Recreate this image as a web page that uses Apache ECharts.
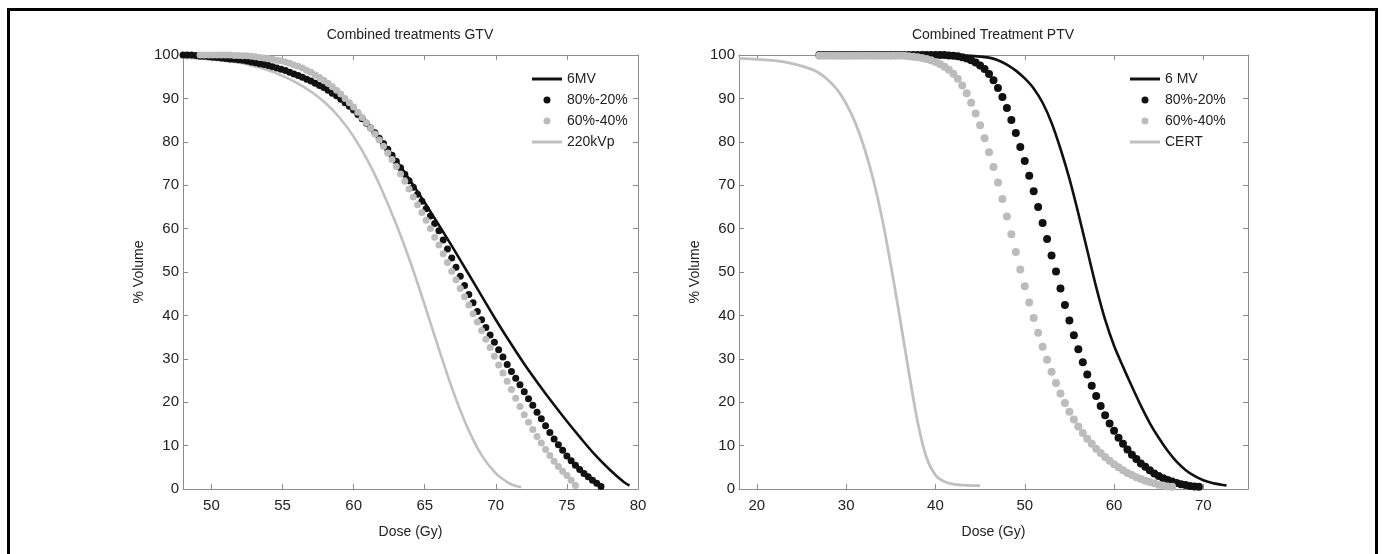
<!DOCTYPE html>
<html><head><meta charset="utf-8">
<script src="https://cdn.jsdelivr.net/npm/echarts@6/dist/echarts.min.js"></script>
<style>
html,body{margin:0;padding:0;background:#fff;overflow:hidden}
#chart{width:1382px;height:554px;position:absolute;left:0;top:0}
#frame{position:absolute;left:7px;top:8px;width:1365px;height:600px;border:3px solid #000;pointer-events:none}
</style></head><body>
<div id="chart"></div><div id="frame"></div>
<script>
// ---------- data ----------
const gtvTitle = 'Combined treatments GTV';
const ptvTitle = 'Combined Treatment PTV';
const xName = 'Dose (Gy)';
const yName = '% Volume';
const gtvXTicks = [50, 55, 60, 65, 70, 75, 80];
const ptvXTicks = [20, 30, 40, 50, 60, 70];
const gtvNames = ['6MV', '80%-20%', '60%-40%', '220kVp'];
const ptvNames = ['6 MV', '80%-20%', '60%-40%', 'CERT'];

// GTV (left panel)
const gtv6MV = [[48,100],[48.7,99.7],[49.5,99.4],[50.5,99.2],[52,98.8],[54,97.6],[55,96.6],[56,95.4],[57,94.1],[58,92.4],[59,90.2],[60,87.4],[61,84.1],[62,80.1],[63,75.7],[64,71],[65,66],[66,60.8],[67,55.5],[68,50],[69,44.5],[70,39],[71,33.8],[72,28.8],[73,24.2],[74,19.8],[75,15.6],[76,11.6],[77,7.8],[78,4.5],[79,1.6],[79.4,0.8]];
const gtv8020 = [[48,100],[48.3,100],[48.6,100],[48.9,99.9],[49.2,99.7],[49.5,99.7],[49.8,99.6],[50.1,99.5],[50.4,99.4],[50.7,99.3],[51,99.2],[51.3,99.1],[51.6,99],[51.9,98.9],[52.2,98.8],[52.5,98.6],[52.8,98.4],[53.1,98.2],[53.4,98],[53.7,97.8],[54,97.6],[54.3,97.3],[54.6,97],[54.9,96.7],[55.2,96.4],[55.5,96],[55.8,95.6],[56.1,95.3],[56.4,94.9],[56.7,94.4],[57,94],[57.3,93.5],[57.6,93],[57.9,92.5],[58.2,91.9],[58.5,91.2],[58.8,90.6],[59.1,89.8],[59.4,89],[59.7,88.2],[60,87.3],[60.3,86.3],[60.6,85.3],[60.9,84.3],[61.2,83.2],[61.5,82.1],[61.8,80.8],[62.1,79.6],[62.4,78.3],[62.7,76.9],[63,75.5],[63.3,74],[63.6,72.5],[63.9,71],[64.2,69.5],[64.5,67.9],[64.8,66.3],[65.1,64.6],[65.4,62.9],[65.7,61.2],[66,59.5],[66.3,57.4],[66.6,55.3],[66.9,53.2],[67.2,51.1],[67.5,49],[67.8,46.9],[68.1,44.8],[68.4,42.9],[68.7,40.9],[69,39],[69.3,37.2],[69.6,35.5],[69.9,33.8],[70.2,32.1],[70.5,30.4],[70.8,28.7],[71.1,27.1],[71.4,25.5],[71.7,24],[72,22.4],[72.3,20.8],[72.6,19.3],[72.9,17.7],[73.2,16.2],[73.5,14.6],[73.8,13],[74.1,11.5],[74.4,10.2],[74.7,8.9],[75,7.6],[75.3,6.5],[75.6,5.5],[75.9,4.5],[76.2,3.6],[76.5,2.8],[76.8,2],[77.1,1.3],[77.4,0.6]];
const gtv6040 = [[49.2,100],[49.5,100],[49.8,100],[50.1,100],[50.4,100],[50.7,100],[51,100],[51.3,100],[51.6,99.9],[51.9,99.9],[52.2,99.8],[52.5,99.8],[52.8,99.7],[53.1,99.6],[53.4,99.4],[53.7,99.3],[54,99.2],[54.3,99],[54.6,98.8],[54.9,98.7],[55.2,98.4],[55.5,98.1],[55.8,97.7],[56.1,97.4],[56.4,97],[56.7,96.5],[57,96],[57.3,95.4],[57.6,94.8],[57.9,94.2],[58.2,93.5],[58.5,92.7],[58.8,91.9],[59.1,91],[59.4,90],[59.7,89],[60,88],[60.3,86.8],[60.6,85.6],[60.9,84.4],[61.2,83.1],[61.5,81.8],[61.8,80.4],[62.1,79],[62.4,77.4],[62.7,75.9],[63,74.3],[63.3,72.6],[63.6,70.9],[63.9,69.1],[64.2,67.3],[64.5,65.5],[64.8,63.7],[65.1,61.9],[65.4,60],[65.7,58],[66,56.2],[66.3,54.2],[66.6,52.2],[66.9,50.2],[67.2,48.2],[67.5,46.2],[67.8,44.3],[68.1,42.4],[68.4,40.4],[68.7,38.5],[69,36.5],[69.3,34.5],[69.6,32.6],[69.9,30.6],[70.2,28.6],[70.5,26.7],[70.8,24.8],[71.1,22.9],[71.4,20.9],[71.7,19],[72,17.1],[72.3,15.4],[72.6,13.7],[72.9,12.1],[73.2,10.6],[73.5,9.1],[73.8,7.7],[74.1,6.4],[74.4,5.2],[74.7,4.1],[75,3.1],[75.3,2],[75.6,0.8]];
const gtv220kVp = [[48,99.3],[50,99],[52,98.2],[54,96.5],[55,95.2],[56,93.6],[57,91.6],[58,89],[59,85.6],[60,81.2],[61,75.6],[62,68.8],[63,61],[64,52.2],[65,42.4],[66,32.2],[67,22.5],[68,14.2],[69,7.8],[70,3.6],[70.8,1.6],[71.3,0.8],[71.8,0.4]];

// PTV (right panel)
const ptv6MV = [[30,100],[40,100],[44,99.8],[46,99.4],[47,98.8],[48,97.8],[49,96.4],[50,94.6],[51,92.3],[52,89],[53,84.4],[54,78.4],[55,71.5],[56,63.5],[57,55],[58,46.5],[59,39],[60,33],[61,28.2],[62,23.6],[63,19.2],[64,15.2],[65,11.8],[66,8.8],[67,6.3],[68,4.4],[69,3],[70,2],[71,1.4],[72,1],[72.6,0.8]];
const ptv8020 = [[27,100],[27.5,100],[28,100],[28.5,100],[29,100],[29.5,100],[30,100],[30.5,100],[31,100],[31.5,100],[32,100],[32.5,100],[33,100],[33.5,100],[34,100],[34.5,100],[35,100],[35.5,100],[36,100],[36.5,100],[37,100],[37.5,100],[38,100],[38.5,100],[39,100],[39.5,100],[40,100],[40.5,100],[41,100],[41.5,99.9],[42,99.8],[42.5,99.7],[43,99.5],[43.5,99.2],[44,98.8],[44.5,98.3],[45,97.6],[45.5,96.8],[46,95.6],[46.5,94.2],[47,92.4],[47.5,90.3],[48,87.8],[48.5,85],[49,82],[49.5,78.8],[50,75.6],[50.5,72.2],[51,68.6],[51.5,65],[52,61.3],[52.5,57.6],[53,53.8],[53.5,50.1],[54,46.2],[54.5,42.4],[55,38.8],[55.5,35.4],[56,32.2],[56.5,29.2],[57,26.4],[57.5,23.8],[58,21.4],[58.5,19.1],[59,17],[59.5,15.1],[60,13.4],[60.5,11.8],[61,10.4],[61.5,9.1],[62,7.9],[62.5,6.9],[63,5.9],[63.5,5.1],[64,4.3],[64.5,3.6],[65,3],[65.5,2.5],[66,2.1],[66.5,1.7],[67,1.4],[67.5,1.1],[68,0.9],[68.5,0.7],[69,0.6],[69.5,0.5]];
const ptv6040 = [[27,99.85],[27.5,99.85],[28,99.85],[28.5,99.85],[29,99.85],[29.5,99.85],[30,99.85],[30.5,99.85],[31,99.85],[31.5,99.85],[32,99.85],[32.5,99.85],[33,99.85],[33.5,99.85],[34,99.85],[34.5,99.85],[35,99.85],[35.5,99.85],[36,99.8],[36.5,99.8],[37,99.7],[37.5,99.6],[38,99.5],[38.5,99.3],[39,99.1],[39.5,98.8],[40,98.4],[40.5,97.9],[41,97.3],[41.5,96.6],[42,95.7],[42.5,94.5],[43,93],[43.5,91.2],[44,89],[44.5,86.5],[45,83.8],[45.5,80.8],[46,77.6],[46.5,74.2],[47,70.6],[47.5,66.8],[48,62.8],[48.5,58.7],[49,54.6],[49.5,50.6],[50,46.7],[50.5,43],[51,39.4],[51.5,36],[52,32.8],[52.5,29.8],[53,27],[53.5,24.4],[54,22],[54.5,19.8],[55,17.8],[55.5,16],[56,14.4],[56.5,12.9],[57,11.6],[57.5,10.4],[58,9.3],[58.5,8.3],[59,7.4],[59.5,6.5],[60,5.7],[60.5,5],[61,4.3],[61.5,3.7],[62,3.2],[62.5,2.7],[63,2.3],[63.5,1.9],[64,1.6],[64.5,1.3],[65,1],[65.5,0.8],[66,0.6],[66.5,0.5]];
const ptvCERT = [[18,99.2],[20,99],[22,98.7],[24,98],[26,96.8],[27,95.8],[28,94.2],[29,92],[30,88.8],[31,84.5],[32,78.8],[33,71.6],[34,62.6],[35,51.6],[36,39.6],[37,27.2],[38,15.5],[39,7.2],[40,3.2],[41,1.7],[42,1.1],[43,0.9],[44,0.8],[45,0.8]];

// ---------- styling ----------
const FONT = '"Liberation Sans", Arial, Helvetica, sans-serif';
const TXT = '#222';
const AX = '#8c8c8c';
const BLACK = '#111';
const GREYDOT = '#bcbcbc';
const GREYLINE = '#c0c0c0';
const LINE_ICON = 'path://M0,0L30,0L30,3L0,3Z';

function xAx(grid, min, max, ticks, top) {
  return {
    type: 'value', gridIndex: grid, min: min, max: max, position: top ? 'top' : 'bottom',
    axisLine: {show: true, onZero: false, lineStyle: {color: AX, width: 1}},
    axisTick: {show: true, inside: true, length: 5, customValues: ticks, lineStyle: {color: AX}},
    axisLabel: {show: !top, customValues: ticks, fontSize: 15, color: TXT, fontFamily: FONT, margin: 9},
    splitLine: {show: false},
    name: top ? '' : xName, nameLocation: 'middle', nameGap: 36,
    nameTextStyle: {fontSize: 14, color: TXT, fontFamily: FONT}
  };
}
function yAx(grid, right) {
  return {
    type: 'value', gridIndex: grid, min: 0, max: 100, interval: 10, position: right ? 'right' : 'left',
    axisLine: {show: true, onZero: false, lineStyle: {color: AX, width: 1}},
    axisTick: {show: true, inside: true, length: 5, lineStyle: {color: AX}},
    axisLabel: {show: !right, fontSize: 15, color: TXT, fontFamily: FONT, margin: 4},
    splitLine: {show: false},
    name: right ? '' : yName, nameLocation: 'middle', nameGap: 37, nameRotate: 90,
    nameTextStyle: {fontSize: 14, color: TXT, fontFamily: FONT}
  };
}
function lineS(name, data, xi, yi, color, w) {
  return {type: 'line', name: name, data: data, xAxisIndex: xi, yAxisIndex: yi, symbol: 'none',
    smooth: 0.3, lineStyle: {color: color, width: w}, itemStyle: {color: color}, z: 2};
}
function dotS(name, data, xi, yi, color, size) {
  return {type: 'scatter', name: name, data: data, xAxisIndex: xi, yAxisIndex: yi, symbol: 'circle',
    symbolSize: size, clip: false, itemStyle: {color: color, opacity: 1}, z: 2};
}
function legend(left, names) {
  return {left: left, top: 66, orient: 'vertical', itemWidth: 30, itemHeight: 7, itemGap: 5,
    textStyle: {fontSize: 14, color: TXT, fontFamily: FONT, lineHeight: 16},
    data: [
      {name: names[0], icon: LINE_ICON},
      {name: names[1], icon: 'circle'},
      {name: names[2], icon: 'circle'},
      {name: names[3], icon: LINE_ICON}
    ],
    selectedMode: false};
}

const chart = echarts.init(document.getElementById('chart'), null, {renderer: 'canvas'});
chart.setOption({
  animation: false,
  backgroundColor: '#fff',
  title: [
    {text: gtvTitle, left: 405, top: 23, textAlign: 'center', textStyle: {fontSize: 14, fontWeight: 'normal', color: TXT, fontFamily: FONT}},
    {text: ptvTitle, left: 988, top: 23, textAlign: 'center', textStyle: {fontSize: 14, fontWeight: 'normal', color: TXT, fontFamily: FONT}}
  ],
  legend: [legend(527, gtvNames), legend(1125, ptvNames)],
  grid: [
    {left: 183, top: 55, width: 455, height: 434},
    {left: 739, top: 55, width: 509, height: 434}
  ],
  xAxis: [xAx(0, 48, 80, gtvXTicks, false), xAx(0, 48, 80, gtvXTicks, true),
          xAx(1, 18, 75, ptvXTicks, false), xAx(1, 18, 75, ptvXTicks, true)],
  yAxis: [yAx(0, false), yAx(0, true), yAx(1, false), yAx(1, true)],
  series: [
    lineS(gtvNames[0], gtv6MV, 0, 0, BLACK, 2.6),
    dotS(gtvNames[1], gtv8020, 0, 0, BLACK, 7),
    dotS(gtvNames[2], gtv6040, 0, 0, GREYDOT, 7),
    lineS(gtvNames[3], gtv220kVp, 0, 0, GREYLINE, 2.6),
    lineS(ptvNames[0], ptv6MV, 2, 2, BLACK, 2.6),
    dotS(ptvNames[1], ptv8020, 2, 2, BLACK, 8),
    dotS(ptvNames[2], ptv6040, 2, 2, GREYDOT, 8),
    lineS(ptvNames[3], ptvCERT, 2, 2, GREYLINE, 2.8)
  ]
});
</script></body></html>
